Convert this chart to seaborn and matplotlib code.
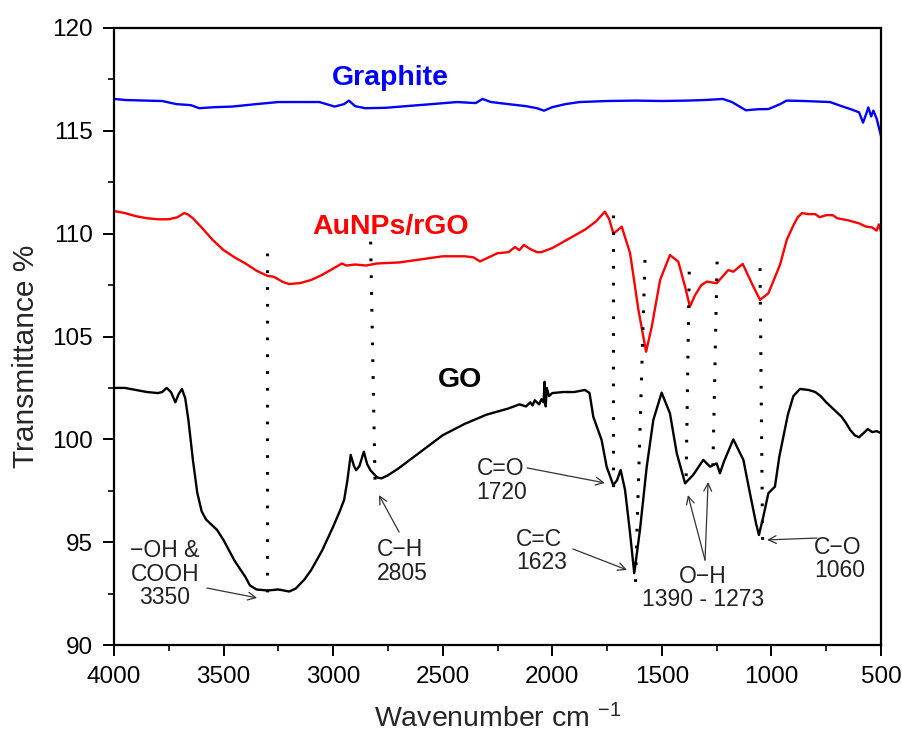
import numpy as np
import pandas as pd
import matplotlib
matplotlib.use("Agg")
import matplotlib.pyplot as plt
from matplotlib.ticker import MultipleLocator
import seaborn as sns

# ---------------- data ----------------
go_wn = [4000, 3950, 3900, 3850, 3800, 3780, 3760, 3740, 3720, 3705, 3690, 3675, 3660, 3640,
         3620, 3600, 3580, 3550, 3530, 3500, 3450, 3400, 3380, 3350, 3300, 3250, 3200, 3170,
         3130, 3100, 3050, 3000, 2970, 2950, 2935, 2920, 2905, 2895, 2880, 2860, 2845, 2830,
         2800, 2780, 2750, 2700, 2600, 2500, 2400, 2300, 2200, 2150, 2120, 2100, 2090, 2080,
         2060, 2050, 2040, 2035, 2030, 2025, 2015, 2000, 1950, 1900, 1851, 1830, 1813, 1775,
         1752, 1722, 1705, 1688, 1668, 1645, 1626, 1600, 1569, 1539, 1501, 1463, 1432, 1394,
         1357, 1311, 1280, 1250, 1235, 1217, 1174, 1128, 1098, 1070, 1057, 1037, 1014, 984,
         964, 925, 900, 870, 830, 800, 775, 750, 720, 680, 660, 640, 620, 600, 580, 560,
         540, 520, 500]
go_tr = [102.5, 102.5, 102.4, 102.3, 102.25, 102.3, 102.5, 102.3, 101.8, 102.2, 102.45, 102.0,
         100.9, 99.0, 97.4, 96.5, 96.1, 95.8, 95.6, 95.1, 94.1, 93.3, 92.9, 92.7, 92.65, 92.7,
         92.6, 92.75, 93.2, 93.65, 94.6, 95.75, 96.5, 97.05, 98.0, 99.24, 98.7, 98.5, 98.7,
         99.4, 98.8, 98.5, 98.15, 98.1, 98.25, 98.6, 99.4, 100.2, 100.75, 101.2, 101.5, 101.7,
         101.6, 101.8, 101.65, 101.9, 101.7, 101.95, 101.8, 102.8, 101.6, 102.5, 102.1, 102.25,
         102.3, 102.3, 102.4, 102.25, 101.1, 99.97, 98.67, 97.78, 98.0, 98.51, 97.54, 95.43,
         93.49, 95.59, 98.67, 100.94, 102.27, 101.26, 99.32, 97.86, 98.27, 99.0, 98.67, 98.83,
         98.35, 98.91, 100.0, 99.0, 97.38, 95.9, 95.35, 96.24, 97.38, 97.7, 99.16, 101.2,
         102.1, 102.45, 102.4, 102.3, 102.1, 101.8, 101.5, 101.1, 100.8, 100.45, 100.2, 100.1,
         100.3, 100.5, 100.35, 100.4, 100.3]

rgo_wn = [4000, 3950, 3900, 3850, 3800, 3750, 3710, 3680, 3665, 3640, 3600, 3550, 3500, 3450,
          3400, 3350, 3300, 3270, 3230, 3200, 3150, 3100, 3050, 3000, 2960, 2940, 2900, 2850,
          2800, 2700, 2600, 2500, 2400, 2360, 2330, 2300, 2250, 2200, 2170, 2150, 2130, 2100,
          2070, 2050, 2000, 1950, 1900, 1850, 1800, 1760, 1740, 1721, 1683, 1645, 1607, 1572,
          1546, 1508, 1463, 1425, 1394, 1372, 1349, 1320, 1295, 1250, 1197, 1174, 1131, 1090,
          1052, 1014, 961, 930, 900, 880, 860, 830, 800, 780, 750, 720, 700, 650, 600, 570,
          540, 520, 510, 500]
rgo_tr = [111.1, 111.0, 110.85, 110.75, 110.7, 110.7, 110.8, 111.0, 110.95, 110.75, 110.3,
          109.7, 109.2, 108.85, 108.55, 108.2, 107.95, 107.9, 107.65, 107.55, 107.6, 107.75,
          108.0, 108.3, 108.55, 108.45, 108.5, 108.45, 108.55, 108.6, 108.75, 108.9, 108.9,
          108.85, 108.65, 108.8, 109.05, 109.1, 109.35, 109.2, 109.45, 109.25, 109.1, 109.1,
          109.3, 109.6, 109.9, 110.2, 110.6, 111.07, 110.7, 110.0, 110.34, 109.05, 106.3,
          104.26, 105.48, 107.75, 108.96, 108.64, 107.42, 106.45, 107.0, 107.5, 107.67,
          107.59, 108.23, 108.15, 108.53, 107.59, 106.78, 107.1, 108.48, 109.7, 110.4, 110.8,
          111.0, 110.95, 110.95, 110.8, 110.9, 110.9, 110.75, 110.65, 110.5, 110.35, 110.3,
          110.15, 110.45, 110.1]

gr_wn = [4000, 3950, 3855, 3780, 3716, 3650, 3611, 3540, 3460, 3350, 3250, 3150, 3063, 2993,
         2950, 2928, 2900, 2854, 2760, 2667, 2550, 2434, 2350, 2318, 2280, 2201, 2120, 2070,
         2038, 2000, 1940, 1875, 1750, 1619, 1500, 1385, 1300, 1222, 1180, 1117, 1060, 1013,
         960, 931, 850, 733, 680, 640, 600, 582, 565, 558, 545, 535, 520, 500]
gr_tr = [116.55, 116.5, 116.47, 116.45, 116.3, 116.25, 116.1, 116.15, 116.18, 116.3, 116.4,
         116.4, 116.4, 116.18, 116.3, 116.47, 116.2, 116.1, 116.12, 116.2, 116.3, 116.4,
         116.35, 116.55, 116.4, 116.3, 116.2, 116.1, 115.98, 116.15, 116.3, 116.4, 116.45,
         116.47, 116.45, 116.47, 116.5, 116.55, 116.4, 116.0, 116.05, 116.06, 116.3, 116.47,
         116.45, 116.4, 116.2, 116.06, 115.9, 115.4, 115.9, 116.14, 115.7, 115.98, 115.6,
         114.75]

# dotted peak markers: (wn_top, tr_top, wn_bottom, tr_bottom)
peak_wn_top = [3302, 2829, 1723, 1577, 1375, 1248, 1052]
peak_tr_top = [109.06, 109.61, 110.91, 108.72, 108.15, 108.64, 108.32]
peak_wn_bot = [3302, 2808, 1723, 1621, 1390, 1268, 1040]
peak_tr_bot = [92.19, 97.54, 97.29, 92.77, 97.70, 98.18, 94.72]

series_names = ["Graphite", "AuNPs/rGO", "GO"]
series_colors = ["#0000ff", "#ff0000", "#000000"]

# ---------------- figure ----------------
sns.set_style("ticks")
plt.rcParams["font.family"] = ["Liberation Sans", "DejaVu Sans"]
plt.rcParams["mathtext.fontset"] = "custom"
plt.rcParams["mathtext.rm"] = "Liberation Sans"
plt.rcParams["mathtext.it"] = "Liberation Sans"

fig = plt.figure(figsize=(9.03, 7.37), dpi=100)
ax = fig.add_axes([114 / 903, 1 - 645 / 737, (881 - 114) / 903, (645 - 28) / 737])

frames = [
    pd.DataFrame({"wn": gr_wn, "tr": gr_tr}),
    pd.DataFrame({"wn": rgo_wn, "tr": rgo_tr}),
    pd.DataFrame({"wn": go_wn, "tr": go_tr}),
]
for df, c in zip(frames, series_colors):
    sns.lineplot(data=df, x="wn", y="tr", ax=ax, color=c, lw=1.7,
                 estimator=None, sort=False)

for xt, yt, xb, yb in zip(peak_wn_top, peak_tr_top, peak_wn_bot, peak_tr_bot):
    ax.plot([xt, xb], [yt, yb], color="black", lw=2.2, linestyle=(0, (0.9, 4.6)),
            dash_capstyle="butt")

ax.set_xlim(4000, 500)
ax.set_ylim(90, 120)
ax.xaxis.set_major_locator(MultipleLocator(500))
ax.xaxis.set_minor_locator(MultipleLocator(250))
ax.yaxis.set_major_locator(MultipleLocator(5))
ax.yaxis.set_minor_locator(MultipleLocator(2.5))
ax.tick_params(which="major", direction="out", length=8, width=1.4, labelsize=17.5,
               colors="black", pad=7)
ax.tick_params(which="minor", direction="out", length=4.5, width=1.4)
for s in ax.spines.values():
    s.set_linewidth(1.6)
    s.set_color("black")

ax.set_xlabel(r"Wavenumber cm $^{-1}$", fontsize=20.5, labelpad=12)
ax.set_ylabel("Transmittance %", fontsize=21.5)
ax.yaxis.set_label_coords(-0.0965, 0.468)

# series labels
ax.text(2741, 117.57, series_names[0], color=series_colors[0], fontsize=20.5,
        fontweight="bold", ha="center", va="center")
ax.text(2736, 110.32, series_names[1], color=series_colors[1], fontsize=20.5,
        fontweight="bold", ha="center", va="center")
ax.text(2421, 102.89, series_names[2], color=series_colors[2], fontsize=20.5,
        fontweight="bold", ha="center", va="center")

# annotations
tc = "#222222"
ap = dict(arrowstyle="->", lw=0.9, color="#333333", shrinkA=0, shrinkB=0,
          mutation_scale=14)
fs = 16.5
ax.annotate("", xy=(3347, 92.29), xytext=(3576, 92.77), arrowprops=ap)
ax.text(3767, 93.45, "\u2212OH &\nCOOH\n3350", fontsize=fs, color=tc, ha="center",
        va="center", linespacing=1.05)

ax.annotate("", xy=(2791, 97.29), xytext=(2699, 95.49), arrowprops=ap)
ax.text(2800, 94.04, "C\u2212H\n2805", fontsize=fs, color=tc, ha="left", va="center",
        linespacing=1.05)

ax.annotate("", xy=(1760, 97.88), xytext=(2115, 98.61), arrowprops=ap)
ax.text(2345, 98.02, "C=O\n1720", fontsize=fs, color=tc, ha="left", va="center",
        linespacing=1.05)

ax.annotate("", xy=(1659, 93.65), xytext=(1906, 94.67), arrowprops=ap)
ax.text(2165, 94.57, "C=C\n1623", fontsize=fs, color=tc, ha="left", va="center",
        linespacing=1.05)

ax.annotate("", xy=(1381, 97.29), xytext=(1303, 94.13), arrowprops=ap)
ax.annotate("", xy=(1289, 97.93), xytext=(1303, 94.13), arrowprops=ap)
ax.text(1312, 92.77, "O\u2212H\n1390 - 1273", fontsize=fs, color=tc, ha="center",
        va="center", linespacing=1.05)

ax.annotate("", xy=(1020, 95.11), xytext=(792, 95.20), arrowprops=ap)
ax.text(805, 94.18, "C\u2212O\n1060", fontsize=fs, color=tc, ha="left", va="center",
        linespacing=1.05)

fig.savefig("out.png", dpi=100)
